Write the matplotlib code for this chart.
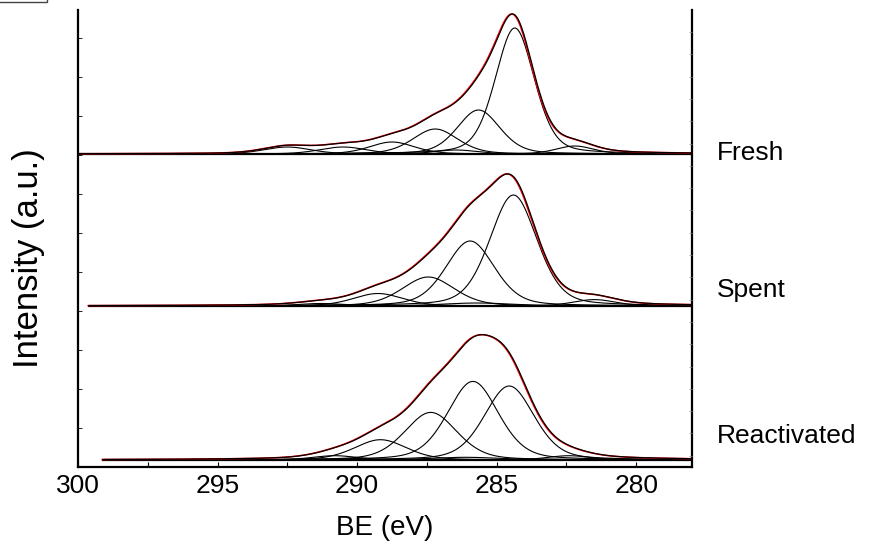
import numpy as np
import matplotlib
matplotlib.use("Agg")
import matplotlib.pyplot as plt
from matplotlib.ticker import MultipleLocator, NullFormatter
from matplotlib.patches import Rectangle

plt.rcParams['font.family'] = ['Liberation Sans', 'DejaVu Sans']

# sample names and stacking offsets (a.u.)
samples = ['Fresh', 'Spent', 'Reactivated']
offsets = [313, 161, 7]
start_be = [300.0, 299.6, 299.1]

# fitted C1s components: centre (eV), height (a.u.), FWHM (eV)
fresh_pos = [292.5, 290.5, 288.75, 287.2, 286.45, 285.65, 284.35, 282.2]
fresh_h = [7, 7, 12, 25, 4, 44, 126, 8]
fresh_w = [2.0, 2.0, 1.9, 1.9, 1.8, 1.8, 1.65, 1.6]

spent_pos = [291.3, 289.25, 287.45, 285.95, 285.7, 284.4, 281.5]
spent_h = [2.5, 12.5, 29, 65, 3, 111, 6.4]
spent_w = [2.0, 2.1, 2.2, 2.05, 3.0, 2.0, 1.8]

react_pos = [290.8, 289.16, 287.36, 286.13, 285.85, 284.55, 282.41]
react_h = [4.3, 20.3, 47.6, 2.7, 78.6, 74, 4.3]
react_w = [1.9, 2.2, 2.2, 3.0, 2.15, 2.1, 1.8]

fits = [(fresh_pos, fresh_h, fresh_w),
        (spent_pos, spent_h, spent_w),
        (react_pos, react_h, react_w)]

eta = 0.3  # lorentzian fraction (GL mix)


def gl(x, c, h, w):
    g = np.exp(-4 * np.log(2) * (x - c) ** 2 / w ** 2)
    l = 1 / (1 + 4 * (x - c) ** 2 / w ** 2)
    return h * ((1 - eta) * g + eta * l)


fig = plt.figure(figsize=(8.69, 5.54), dpi=100)
ax = fig.add_axes([78 / 869, 87 / 554, 614 / 869, 457 / 554])

for name, off, x0, (pos, hh, ww) in zip(samples, offsets, start_be, fits):
    be = np.linspace(x0, 278, 900)
    total = np.zeros_like(be)
    for c, h, w in zip(pos, hh, ww):
        comp = gl(be, c, h, w)
        total += comp
        ax.plot(be, comp + off, color='black', lw=0.8)
    ax.plot(be, np.full_like(be, off), color='black', lw=1.6)
    # measured (red) under the fitted envelope (black)
    ax.plot(be + 0.03, total + off, color='#ff0000', lw=1.1)
    ax.plot(be, total + off, color='black', lw=0.9)

ax.set_xlim(300, 278)
ax.set_ylim(0, 457)
ax.spines['top'].set_visible(False)
for s in ['left', 'right', 'bottom']:
    ax.spines[s].set_linewidth(1.6)

ax.xaxis.set_major_locator(MultipleLocator(5))
ax.xaxis.set_minor_locator(MultipleLocator(2.5))
ax.yaxis.set_major_locator(MultipleLocator(39))
ax.yaxis.set_major_formatter(NullFormatter())
ax.tick_params(axis='x', which='both', direction='in', length=3.5, width=0.8,
               labelsize=19, pad=5)
ax.tick_params(axis='y', which='both', direction='in', length=3, width=0.6,
               left=True, right=False, labelleft=False)

ax2 = ax.twinx()
ax2.set_ylim(0, 457)
ax2.yaxis.set_major_locator(MultipleLocator(22.3, offset=11.3))
ax2.yaxis.set_major_formatter(NullFormatter())
ax2.tick_params(axis='y', direction='in', length=2.5, width=0.5, colors='#888888')
for s in ['top', 'left', 'bottom', 'right']:
    ax2.spines[s].set_visible(False)

ax.set_xlabel('BE (eV)', fontsize=20, labelpad=12)
ax.set_ylabel('Intensity (a.u.)', fontsize=25)
ax.yaxis.set_label_coords(-0.054, 0.457)

label_y = [314, 177, 31]
for name, yy in zip(samples, label_y):
    ax.text(1.041, yy / 457, name, transform=ax.transAxes, fontsize=19,
            ha='left', va='center')

fig.patches.append(Rectangle((-0.01, 1 - 2 / 554), 47 / 869 + 0.01, 0.05,
                             transform=fig.transFigure, fill=False,
                             edgecolor='#444444', lw=1.0, clip_on=False))

fig.savefig('out.png', dpi=100)
